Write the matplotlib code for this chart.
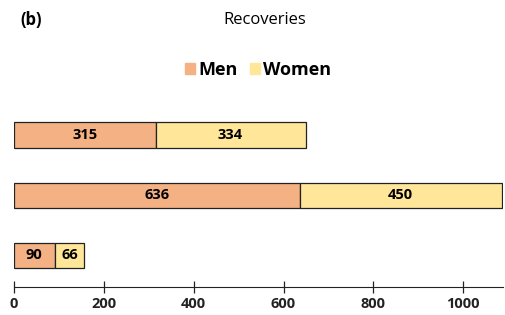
import matplotlib.pyplot as plt
from matplotlib.patches import Patch

plt.rcParams['font.family'] = ['Open Sans', 'DejaVu Sans']

# bars from bottom to top
men = [90, 636, 315]
women = [66, 450, 334]
men_color = '#F4B183'
women_color = '#FFE699'

fig = plt.figure(figsize=(5.06, 3.15), dpi=100)
ax = fig.add_axes([0.028, 0.089, 0.967, 0.578])

pos = range(len(men))
b1 = ax.barh(pos, men, height=0.42, color=men_color, edgecolor='#222222', linewidth=0.9)
b2 = ax.barh(pos, women, left=men, height=0.42, color=women_color, edgecolor='#222222', linewidth=0.9)
ax.bar_label(b1, label_type='center', fontsize=10.5, fontweight='bold')
ax.bar_label(b2, label_type='center', fontsize=10.5, fontweight='bold')

ax.set_xlim(0, 1090)
ax.set_ylim(-0.525, 2.5)
ax.set_xticks([0, 200, 400, 600, 800, 1000])
for s in ['top', 'right', 'left']:
    ax.spines[s].set_visible(False)
ax.spines['bottom'].set_color('#222222')
ax.set_yticks([])
ax.tick_params(axis='x', direction='inout', length=9, width=0.9, colors='#222222', pad=3)
for lab in ax.get_xticklabels():
    lab.set_fontweight('bold')
    lab.set_fontsize(10.5)

fig.text(0.524, 0.935, 'Recoveries', ha='center', va='center', fontsize=12)
fig.text(0.062, 0.935, '(b)', ha='center', va='center', fontsize=12, fontweight='bold')

handles = [Patch(color=men_color), Patch(color=women_color)]
fig.legend(handles, ['Men', 'Women'], loc='center', bbox_to_anchor=(0.51, 0.778), ncol=2,
           frameon=False, prop={'weight': 'bold', 'size': 13}, handlelength=0.55, handleheight=0.6,
           handletextpad=0.15, columnspacing=0.7)

fig.savefig('out.png', dpi=100)
